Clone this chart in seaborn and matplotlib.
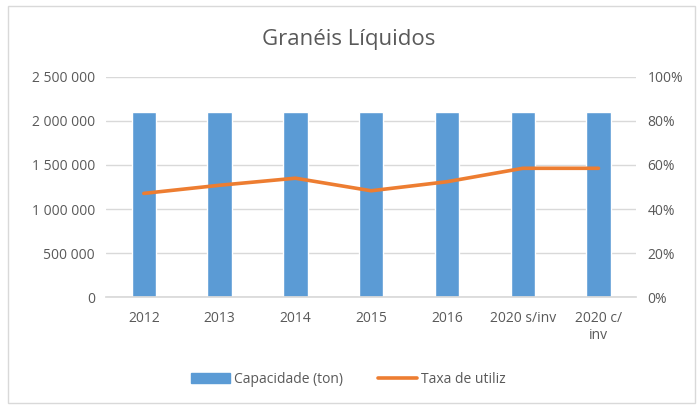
import matplotlib.pyplot as plt
import matplotlib.ticker as mticker
from matplotlib.patches import Patch, Rectangle
from matplotlib.lines import Line2D
import pandas as pd
import seaborn as sns

categories = ["2012", "2013", "2014", "2015", "2016", "2020 s/inv", "2020 c/\ninv"]
capacidade = [2100000, 2100000, 2100000, 2100000, 2100000, 2100000, 2100000]
taxa_utiliz = [0.471, 0.508, 0.540, 0.483, 0.524, 0.585, 0.585]

BAR = "#5b9bd5"
LINE = "#ed7d31"
TXT = "#595959"
GRID = "#d9d9d9"

sns.set_theme(style="white")
plt.rcParams["font.family"] = ["Open Sans", "DejaVu Sans"]

df = pd.DataFrame({"cat": categories, "cap": capacidade, "taxa": taxa_utiliz})

fig = plt.figure(figsize=(6.97, 4.07), dpi=100)
ax = fig.add_axes([0.152, 0.270, 0.761, 0.541])

sns.barplot(data=df, x="cat", y="cap", color=BAR, width=0.32, saturation=1, ax=ax, zorder=2)
ax.set_ylim(0, 2500000)
ax.yaxis.set_major_locator(mticker.MultipleLocator(500000))
ax.yaxis.set_major_formatter(mticker.FuncFormatter(lambda v, p: f"{int(v):,}".replace(",", " ")))
ax.grid(axis="y", color=GRID, linewidth=1, zorder=0)
ax.set_axisbelow(True)
ax.set_xlabel("")
ax.set_ylabel("")
for s in ["top", "right", "left"]:
    ax.spines[s].set_visible(False)
ax.spines["bottom"].set_color(GRID)
ax.tick_params(axis="both", length=0, labelsize=10, colors=TXT, pad=8)
ax.tick_params(axis="x", pad=10)

ax2 = ax.twinx()
sns.lineplot(data=df, x="cat", y="taxa", color=LINE, linewidth=2.6, ax=ax2, zorder=3)
ax2.set_ylim(0, 1)
ax2.yaxis.set_major_locator(mticker.MultipleLocator(0.2))
ax2.yaxis.set_major_formatter(mticker.PercentFormatter(1, decimals=0))
ax2.set_ylabel("")
for s in ax2.spines.values():
    s.set_visible(False)
ax2.tick_params(axis="y", length=0, labelsize=10, colors=TXT, pad=8)
ax.set_xlim(-0.5, len(categories) - 0.5)

fig.text(0.5, 0.902, "Granéis Líquidos", ha="center", va="center", fontsize=16, color=TXT)

handles = [Patch(color=BAR), Line2D([0], [0], color=LINE, linewidth=2.6)]
fig.legend(handles, ["Capacidade (ton)", "Taxa de utiliz"], loc="center",
           bbox_to_anchor=(0.5, 0.068), ncol=2, frameon=False, fontsize=10,
           labelcolor=TXT, handlelength=2.8, columnspacing=2.5, handletextpad=0.3)

fig.patches.append(Rectangle((0.012, 0.01), 0.985, 0.975, transform=fig.transFigure,
                             fill=False, edgecolor=GRID, linewidth=1))

fig.savefig("out.png", dpi=100)
